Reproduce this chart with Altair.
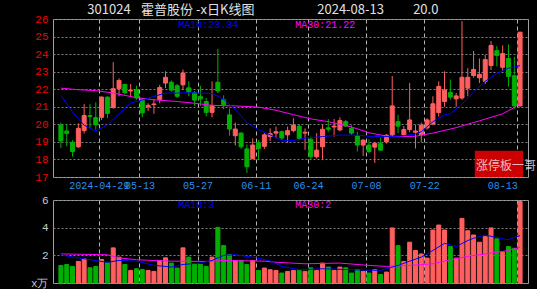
import altair as alt
import pandas as pd

# ---- candle data, index 0 = 2024-04-18 ... 79 = 2024-08-13
opens = [19.96, 19.62, 18.98, 18.72, 19.64, 20.5, 20.38, 20.4, 21.55, 20.95,
         22.03, 22.28, 21.9, 21.97, 21.45, 21.0, 21.12, 21.4, 22.35, 22.4,
         22.2, 22.25, 22.08, 21.8, 21.58, 21.3, 20.68, 22.4, 21.4, 20.54,
         19.35, 19.5, 18.6, 18.05, 18.95, 18.75, 19.3, 19.5, 19.58, 19.4,
         19.64, 19.9, 19.5, 19.15, 18.15, 18.72, 19.8, 19.85, 19.68, 20.15,
         19.77, 19.35, 18.82, 18.82, 18.7, 18.9, 19.0, 19.4, 20.15, 19.4,
         19.7, 19.55, 19.4, 19.8, 20.02, 20.67, 21.3, 21.82, 21.45, 21.5,
         22.06, 22.78, 22.65, 22.45, 23.35, 24.2, 23.25, 23.75, 22.77, 21.05]
closes = [19.05, 19.48, 18.45, 19.77, 20.5, 20.45, 19.97, 21.55, 20.62, 22.03,
          22.5, 21.8, 21.95, 21.5, 20.65, 21.08, 21.16, 22.1, 22.68, 21.95,
          21.6, 22.92, 21.85, 21.38, 21.45, 20.68, 21.08, 21.9, 21.12, 19.73,
          19.73, 18.72, 17.58, 18.82, 18.63, 19.4, 19.47, 19.58, 19.22, 19.64,
          19.96, 19.2, 19.55, 18.15, 18.53, 19.72, 19.72, 19.9, 20.22, 19.9,
          19.5, 18.82, 19.1, 18.45, 18.92, 18.53, 19.38, 21.05, 19.9, 19.7,
          20.25, 19.62, 19.95, 20.25, 21.17, 22.16, 21.95, 21.55, 21.62, 22.68,
          22.68, 23.13, 22.85, 23.69, 24.49, 23.92, 24.03, 22.73, 21.05, 25.25]
highs = [20.1, 20.0, 19.1, 20.06, 21.15, 21.15, 21.25, 21.6, 21.6, 23.54,
         22.62, 22.3, 22.3, 22.2, 21.5, 21.2, 21.45, 22.25, 23.02, 22.5,
         22.3, 23.12, 22.45, 21.9, 22.2, 21.5, 22.45, 24.3, 21.65, 20.9,
         20.1, 19.55, 18.85, 19.2, 19.1, 19.5, 19.77, 19.87, 19.65, 19.87,
         20.35, 20.0, 19.77, 19.3, 19.5, 19.97, 20.3, 20.3, 20.4, 20.25,
         19.95, 19.58, 19.15, 19.15, 19.0, 19.25, 19.45, 22.75, 20.55, 19.9,
         22.35, 19.97, 20.1, 20.35, 21.6, 22.45, 23.02, 22.55, 21.78, 25.88,
         23.2, 24.18, 23.75, 23.95, 24.74, 24.45, 24.5, 24.55, 23.85, 25.25]
lows = [18.65, 18.75, 18.15, 18.65, 19.48, 19.8, 19.7, 20.25, 20.35, 20.9,
        21.6, 21.7, 21.6, 21.4, 20.4, 20.75, 20.6, 21.2, 22.06, 21.85,
        21.5, 21.95, 21.6, 21.05, 21.05, 20.45, 20.4, 21.78, 20.85, 19.35,
        18.8, 18.6, 17.23, 18.0, 18.0, 18.6, 19.05, 19.2, 19.1, 18.95,
        19.55, 19.1, 18.55, 18.0, 18.05, 17.96, 19.58, 19.3, 19.6, 19.85,
        19.4, 18.45, 18.2, 18.35, 17.8, 18.5, 18.9, 19.3, 19.5, 19.3,
        19.55, 18.62, 19.0, 19.7, 19.95, 20.44, 21.0, 21.4, 21.0, 21.4,
        21.6, 22.65, 22.35, 22.3, 23.1, 23.3, 23.05, 22.15, 20.86, 21.0]
volumes = [1.27, 1.34, 1.2, 1.56, 1.75, 1.1, 1.2, 1.7, 1.46, 2.54,
           1.87, 1.34, 0.91, 1.03, 0.98, 0.91, 0.84, 1.63, 1.82, 1.44,
           1.08, 2.54, 1.87, 1.39, 1.34, 1.2, 1.87, 4.02, 2.7, 2.06,
           1.63, 1.63, 1.34, 1.63, 0.91, 1.08, 0.96, 0.91, 0.72, 0.84,
           0.91, 0.91, 0.84, 1.1, 0.91, 1.44, 1.15, 0.91, 1.15, 1.1,
           0.72, 0.98, 0.84, 0.72, 0.96, 0.62, 0.79, 3.98, 2.7, 1.56,
           2.95, 2.35, 2.1, 1.8, 3.83, 4.19, 3.83, 2.63, 1.8, 4.67,
           3.78, 3.47, 2.95, 3.35, 3.98, 3.19, 2.23, 2.63, 2.51, 5.89]

# ---- moving-average lines at sample candles
ma10_idx = [0, 2, 4, 6, 8, 10, 12, 14, 16, 18, 20, 22, 24, 26, 28, 30, 32, 34, 36, 38,
            40, 42, 45, 48, 51, 54, 57, 59, 61, 62, 64, 66, 67, 69, 71, 73, 75, 77, 79]
ma10_val = [21.65, 20.7, 19.95, 19.62, 19.97, 20.6, 21.22, 21.38, 21.59, 21.78, 21.78, 21.8,
            21.78, 21.76, 21.42, 20.85, 20.1, 19.7, 19.4, 19.07, 19.08, 19.22, 19.3, 19.39,
            19.38, 19.3, 19.3, 19.35, 19.45, 19.58, 20.15, 20.54, 20.6, 21.15, 21.85, 22.45,
            22.9, 23.2, 23.34]
ma30_idx = [0, 3, 6, 9, 13, 16, 20, 23, 26, 30, 34, 37, 40, 43, 46, 50, 53, 56, 58, 61,
            64, 68, 72, 76, 78, 79]
ma30_val = [22.06, 21.97, 21.92, 21.78, 21.52, 21.4, 21.3, 21.2, 21.08, 21.05, 20.98, 20.8,
            20.55, 20.31, 20.15, 19.85, 19.52, 19.33, 19.3, 19.32, 19.5, 19.81, 20.2, 20.6,
            20.96, 21.22]
vma10_idx = [0, 2, 6, 8, 10, 13, 16, 19, 21, 24, 26, 28, 30, 33, 36, 38, 41, 45, 50, 55,
             58, 60, 62, 64, 66, 68, 70, 71, 73, 76, 77, 79]
vma10_val = [2.04, 1.88, 1.62, 1.5, 1.63, 1.58, 1.28, 1.15, 1.34, 1.44, 1.63, 2.0, 2.04,
             1.87, 1.6, 1.2, 0.96, 1.03, 0.96, 0.91, 1.27, 1.58, 1.87, 2.35, 2.87, 2.63,
             3.07, 3.23, 3.47, 3.19, 3.14, 3.43]
vma30_idx = [0, 3, 8, 10, 13, 19, 25, 28, 35, 37, 42, 48, 53, 56, 60, 64, 67, 70, 74, 77, 79]
vma30_val = [2.1, 2.08, 2.04, 1.82, 1.68, 1.58, 1.56, 1.63, 1.58, 1.5, 1.39, 1.44, 1.27,
             1.2, 1.27, 1.39, 1.68, 1.92, 2.16, 2.35, 2.59]

# ---- axis tick labels (slot left edges of these candles)
tick_idx = [7, 14, 24, 34, 43, 53, 63, 79]
tick_labels = ["2024-04-29", "05-13", "05-27", "06-11", "06-24", "07-08", "07-22", "08-13"]

# ---- texts
title_texts = ["301024", "霍普股份 -x日K线图", "2024-08-13", "20.0"]
title_x = [4.55, 13.8, 44.1, 60.6]
price_ma_texts = ["MA10:23.34", "MA30:21.22"]
vol_ma_texts = ["MA10:3", "MA30:2"]
ma_text_x = [20.2, 40.3]
ma_colors = ["#0000ff", "#ff00ff"]
stamp_text = "涨停板一哥"

RED = "#ff5f5f"
GREEN = "#00b000"

direction = ["up" if c >= o else "down" for o, c in zip(opens, closes)]
df = pd.DataFrame(dict(idx=list(range(len(opens))), open=opens, close=closes,
                       high=highs, low=lows, vol=volumes, dir=direction))

tick_vals = [t - 0.5 for t in tick_idx]
label_expr = ("[" + ",".join(f"'{s}'" for s in tick_labels) + "][indexof(["
              + ",".join(str(v) for v in tick_vals) + "], datum.value)]")
last_tick = tick_vals[-1]

x_scale = alt.Scale(domain=[-0.5, 79.5], nice=False, zero=False)
y_price_scale = alt.Scale(domain=[17, 26], nice=False, zero=False)
y_vol_scale = alt.Scale(domain=[0, 6], nice=False, zero=False)
col_scale = alt.Scale(domain=["up", "down"], range=[RED, GREEN])

x_axis_top = alt.Axis(values=tick_vals, labelExpr=label_expr, grid=True, gridColor="#b4b4b4",
                      gridDash=[4, 3], gridWidth=1, domain=False, ticks=False,
                      labelColor="#2a8ff0", labelFont="Liberation Mono", labelFontSize=10,
                      labelPadding=3, labelOverlap=False, labelFlush=False,
                      labelAlign={"condition": {"test": f"datum.value >= {last_tick}",
                                                "value": "right"}, "value": "center"},
                      title=None)
x_axis_bot = alt.Axis(values=tick_vals, grid=True, gridColor="#b4b4b4", gridDash=[4, 3],
                      gridWidth=1, domain=False, ticks=False, labels=False, title=None)
y_axis_price = alt.Axis(values=list(range(17, 27)), grid=True, gridColor="#808080",
                        gridDash=[2, 2], domain=False, ticks=False, labelColor="#f00000",
                        labelFont="Liberation Mono", labelFontSize=11, labelPadding=5, title=None)
y_axis_vol = alt.Axis(values=[0, 2, 4, 6], grid=True, gridColor="#808080", gridDash=[2, 2],
                      domain=False, ticks=False, labelColor="#c8c8c8",
                      labelExpr="datum.value == 0 ? 'x万' : datum.label",
                      labelFont="Liberation Mono", labelFontSize=11, labelPadding=5, title=None)

xt = alt.X("idx:Q", scale=x_scale, axis=x_axis_top)
xb = alt.X("idx:Q", scale=x_scale, axis=x_axis_bot)

base = alt.Chart(df)
wicks = base.mark_rule(strokeWidth=1).encode(
    x=xt, y=alt.Y("low:Q", scale=y_price_scale, axis=y_axis_price), y2="high:Q",
    color=alt.Color("dir:N", scale=col_scale, legend=None))
bodies = base.mark_bar(size=4, strokeWidth=1).encode(
    x=xt, y=alt.Y("open:Q", scale=y_price_scale, axis=y_axis_price), y2="close:Q",
    color=alt.Color("dir:N", scale=col_scale, legend=None),
    stroke=alt.Stroke("dir:N", scale=col_scale, legend=None))

ma10_df = pd.DataFrame(dict(idx=ma10_idx, v=ma10_val))
ma30_df = pd.DataFrame(dict(idx=ma30_idx, v=ma30_val))
ma10_line = alt.Chart(ma10_df).mark_line(color="#0000ff", strokeWidth=1).encode(
    x=xt, y=alt.Y("v:Q", scale=y_price_scale, axis=y_axis_price))
ma30_line = alt.Chart(ma30_df).mark_line(color="#ff00ff", strokeWidth=1).encode(
    x=xt, y=alt.Y("v:Q", scale=y_price_scale, axis=y_axis_price))

title_df = pd.DataFrame(dict(idx=title_x, y=[26.52] * 4, t=title_texts))
title_layer = alt.Chart(title_df).mark_text(
    align="left", baseline="middle", font="Noto Sans CJK SC", fontSize=13,
    color="#e0e0e0").encode(x=xt, y=alt.Y("y:Q", scale=y_price_scale, axis=y_axis_price),
                            text="t:N")

pma_df = pd.DataFrame(dict(idx=ma_text_x, y=[25.68] * 2, t=price_ma_texts, c=ma_colors))
pma_layer = alt.Chart(pma_df).mark_text(
    align="left", baseline="middle", font="Liberation Mono", fontSize=10).encode(
    x=xt, y=alt.Y("y:Q", scale=y_price_scale, axis=y_axis_price), text="t:N",
    color=alt.Color("c:N", scale=None))

stamp_df = pd.DataFrame(dict(x0=[71.2], x1=[79.5], y0=[17.0], y1=[18.5], tx=[71.4],
                             ty=[17.65], t=[stamp_text]))
stamp_rect = alt.Chart(stamp_df).mark_rect(color="#cc0000").encode(
    x=alt.X("x0:Q", scale=x_scale, axis=x_axis_top), x2="x1:Q",
    y=alt.Y("y0:Q", scale=y_price_scale, axis=y_axis_price), y2="y1:Q")
stamp_txt = alt.Chart(stamp_df).mark_text(
    align="left", baseline="middle", font="Noto Sans CJK SC", fontSize=12,
    color="#ffffff", opacity=0.72).encode(
    x=alt.X("tx:Q", scale=x_scale, axis=x_axis_top),
    y=alt.Y("ty:Q", scale=y_price_scale, axis=y_axis_price), text="t:N")

upper = alt.layer(wicks, bodies, ma30_line, ma10_line, stamp_rect, stamp_txt,
                  pma_layer, title_layer).properties(width=475, height=158)

vbars = base.mark_bar(size=4, strokeWidth=1).encode(
    x=xb, y=alt.Y("vol:Q", scale=y_vol_scale, axis=y_axis_vol),
    color=alt.Color("dir:N", scale=col_scale, legend=None),
    stroke=alt.Stroke("dir:N", scale=col_scale, legend=None))
vma10_df = pd.DataFrame(dict(idx=vma10_idx, v=vma10_val))
vma30_df = pd.DataFrame(dict(idx=vma30_idx, v=vma30_val))
vma10_line = alt.Chart(vma10_df).mark_line(color="#0000ff", strokeWidth=1).encode(
    x=xb, y=alt.Y("v:Q", scale=y_vol_scale, axis=y_axis_vol))
vma30_line = alt.Chart(vma30_df).mark_line(color="#ff00ff", strokeWidth=1).encode(
    x=xb, y=alt.Y("v:Q", scale=y_vol_scale, axis=y_axis_vol))
vma_df = pd.DataFrame(dict(idx=ma_text_x, y=[5.65] * 2, t=vol_ma_texts, c=ma_colors))
vma_layer = alt.Chart(vma_df).mark_text(
    align="left", baseline="middle", font="Liberation Mono", fontSize=10).encode(
    x=xb, y=alt.Y("y:Q", scale=y_vol_scale, axis=y_axis_vol), text="t:N",
    color=alt.Color("c:N", scale=None))

lower = alt.layer(vbars, vma30_line, vma10_line, vma_layer).properties(width=475, height=83)

chart = alt.vconcat(upper, lower, spacing=23, bounds="flush").properties(
    padding={"left": 29, "top": 3, "right": 0, "bottom": 0}
).configure(background="black").configure_view(stroke="#a0a0a0", strokeWidth=1)

chart.save("out.html", embed_options={"renderer": "svg", "actions": False})
